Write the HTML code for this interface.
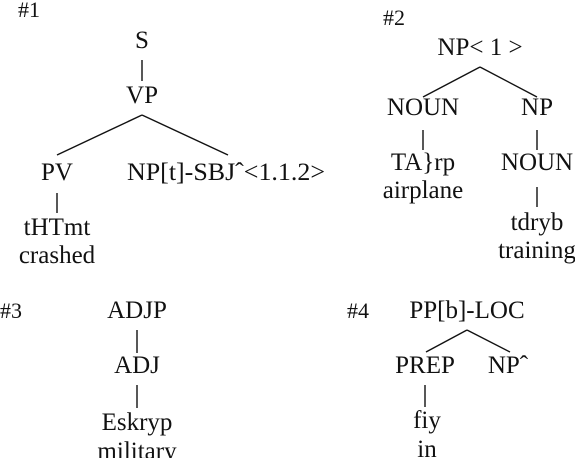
<!DOCTYPE html>
<html><head><style>
html,body{margin:0;padding:0;background:#fff;}
svg{display:block;}
text{font-family:"Liberation Serif",serif;font-size:25px;fill:#111;}
.c{text-anchor:middle;}
.h{font-size:22px;}
line{stroke:#111;stroke-width:1.4;}
</style></head><body>
<svg width="575" height="458" viewBox="0 0 575 458">
<text class="h" x="18" y="17">#1</text>
<text class="c" x="142" y="48">S</text>
<line x1="142" y1="60" x2="142" y2="81"/>
<text class="c" x="142" y="103">VP</text>
<line x1="142" y1="115" x2="57" y2="155"/>
<line x1="142" y1="115" x2="228" y2="155"/>
<text class="c" x="57" y="180">PV</text>
<text x="127" y="180" textLength="198" lengthAdjust="spacingAndGlyphs">NP[t]-SBJˆ&lt;1.1.2&gt;</text>
<line x1="57" y1="193" x2="57" y2="213"/>
<text class="c" x="57" y="235">tHTmt</text>
<text class="c" x="57" y="263">crashed</text>

<text class="h" x="383" y="25">#2</text>
<text class="c" x="480" y="55">NP&lt; 1 &gt;</text>
<line x1="480" y1="67" x2="423" y2="97"/>
<line x1="480" y1="67" x2="537" y2="97"/>
<text class="c" x="423" y="115">NOUN</text>
<text class="c" x="537" y="115">NP</text>
<line x1="423" y1="130" x2="423" y2="150"/>
<line x1="537" y1="130" x2="537" y2="150"/>
<text class="c" x="423" y="170">TA}rp</text>
<text class="c" x="423" y="198">airplane</text>
<text class="c" x="537" y="170">NOUN</text>
<line x1="537" y1="187" x2="537" y2="207"/>
<text class="c" x="537" y="230">tdryb</text>
<text class="c" x="537" y="258">training</text>

<text class="h" x="0" y="318">#3</text>
<text class="c" x="137" y="318">ADJP</text>
<line x1="137" y1="330" x2="137" y2="353"/>
<text class="c" x="137" y="373">ADJ</text>
<line x1="137" y1="385" x2="137" y2="408"/>
<text class="c" x="137" y="430">Eskryp</text>
<text class="c" x="137" y="459">military</text>

<text class="h" x="347" y="318">#4</text>
<text class="c" x="467" y="318">PP[b]-LOC</text>
<line x1="467" y1="330" x2="426" y2="352"/>
<line x1="467" y1="330" x2="510" y2="352"/>
<text class="c" x="425" y="373">PREP</text>
<text class="c" x="508" y="373">NPˆ</text>
<line x1="425" y1="385" x2="425" y2="407"/>
<text class="c" x="427" y="428">fiy</text>
<text class="c" x="427" y="457">in</text>
</svg>
</body></html>
